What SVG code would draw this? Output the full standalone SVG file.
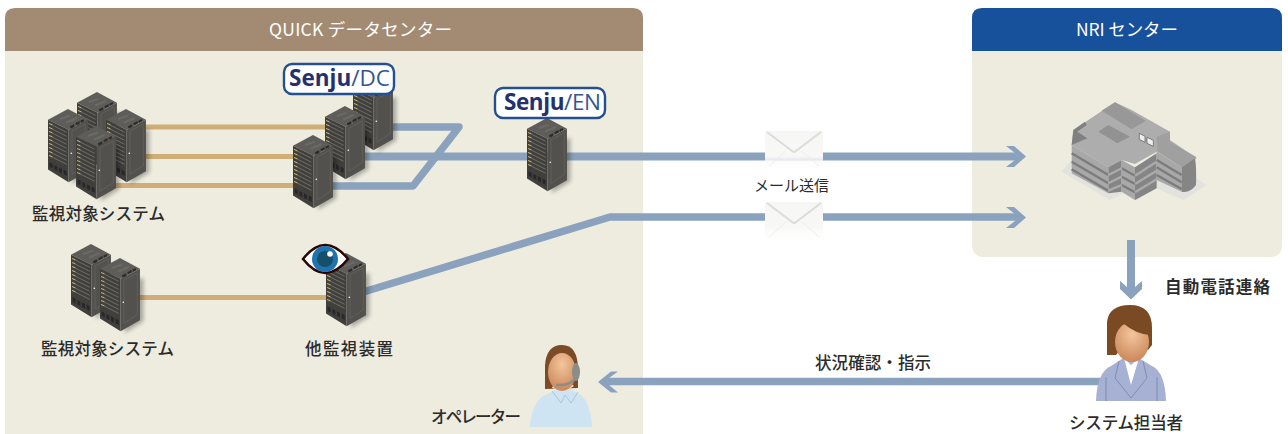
<svg xmlns="http://www.w3.org/2000/svg" xmlns:xlink="http://www.w3.org/1999/xlink" width="1288" height="434" viewBox="0 0 1288 434">
<style>
text{font-family:"Noto Sans CJK JP","Noto Sans",sans-serif;fill:#2b2b2b}
.lb{font-size:16.5px;font-weight:500}
.hd{font-size:17.5px;fill:#fff;text-anchor:middle}
.tan{fill:none;stroke:#cfae78;stroke-width:4.8}
.blue{fill:none;stroke:#8aa2bd;stroke-width:7.5;stroke-linejoin:round}
.head{fill:#8aa2bd}
.bdg{fill:#fff;stroke:#24508f;stroke-width:2.4}
.sj{font-family:"Open Sans","Noto Sans",sans-serif;font-size:22.5px;fill:#25316f;font-weight:700}
.sj2{font-weight:400;fill:#35568f}
</style>
<defs>
<filter id="blr" x="-30%" y="-30%" width="160%" height="160%"><feGaussianBlur stdDeviation="6"/></filter>
<linearGradient id="env" x1="0" y1="0" x2="0" y2="1"><stop offset="0" stop-color="#f6f6f4"/><stop offset=".6" stop-color="#f8f8f7"/><stop offset="1" stop-color="#fff" stop-opacity=".15"/></linearGradient>
<radialGradient id="skin" cx=".5" cy=".3" r=".8"><stop offset="0" stop-color="#f5c59c"/><stop offset="1" stop-color="#c47f52"/></radialGradient>
<g id="srv">
<path d="M80 70L130 60V190L74 225Z" fill="#000" opacity=".3" filter="url(#blr)"/>
<path d="M60 0L120 32L62 62L0 32Z" fill="#5f5d59"/>
<path d="M0 32L62 62V220L0 182Z" fill="#413f3c"/>
<path d="M62 62L120 32V187L62 220Z" fill="#53514d"/>
<path d="M36 30l30-10M54 41l32-14" stroke="#6c6a66" stroke-width="6" fill="none"/>
<path d="M66 52l12-6l2 7l-12 6zM82 43l12-7l2 7l-12 6zM97 35l10-5l2 6l-10 5z" fill="#2d2c2a"/>
<path d="M8 46l48 24M8 58l48 24M8 70l48 24M8 82l48 24M8 94l48 24M8 106l48 24M8 118l48 24M8 130l48 24M8 142l48 24" stroke="#8f8e86" stroke-width="1.8" fill="none"/>
<path d="M3 42l10 4v3l-10-4zM3 54l10 4v3l-10-4zM3 66l10 4v3l-10-4zM3 78l10 4v3l-10-4zM3 90l10 4v3l-10-4zM3 102l10 4v3l-10-4zM3 114l10 4v3l-10-4zM3 126l10 4v3l-10-4zM3 138l10 4v3l-10-4z" fill="#c9b878"/>
<path d="M5 160l9 5v14l-9-5zM19 168l9 5v14l-9-5zM33 175l9 5v14l-9-5zM47 182l9 5v14l-9-5z" fill="#28272a"/>
<path d="M72 66L112 45V170L72 196Z" fill="none" stroke="#6f6d68" stroke-width="1.5"/>
<circle cx="70" cy="133" r="2.5" fill="#e8e8e0"/>
</g>
<g id="envl">
<path d="M0 0H58V42H0Z" fill="url(#env)"/>
<path d="M2 1L27 20Q29 22 31 20L56 1" fill="none" stroke="#dcdcd9" stroke-width="2"/>
<path d="M4 35L21 20M54 35L37 20" fill="none" stroke="#eeeeeb" stroke-width="1"/>
</g>
</defs>
<g id="panel-quick">
<path d="M5 51H643V434H5Z" fill="#eeecdf"/>
<path d="M5 51V18Q5 8 15 8H633Q643 8 643 18V51Z" fill="#a38b73"/>
<text class="hd" x="360.500" y="36" textLength="183">QUICK データセンター</text>
</g>
<g id="panel-nri">
<path d="M972 51H1282V245Q1282 257 1270 257H984Q972 257 972 245Z" fill="#eeecdf"/>
<path d="M972 51V18Q972 8 982 8H1272Q1282 8 1282 18V51Z" fill="#17509b"/>
<text class="hd" x="1127" y="36" textLength="102">NRI センター</text>
</g>
<g id="connectors">
<path class="tan" d="M146 127H330M146 156.500H300M110 185.500H300M139 297.500H330"/>
<path class="blue" d="M385 127H459L413 186H325"/>
<path class="blue" d="M360 156.500H1016" style="stroke-width:8"/>
<path class="blue" d="M360 293L610 217H1016"/>
<path class="head" d="M1006 146H1014L1026 156.500L1014 167H1006L1015 160V153Z"/>
<path class="head" d="M1006 207H1014L1026 217.500L1014 228H1006L1015 221V214Z"/>
<path class="blue" d="M1131 240V292" style="stroke-width:8"/>
<path class="head" d="M1120 281L1127 287H1135L1142 281V289L1131 299.500L1120 289Z"/>
<path class="blue" d="M1100 381.500H604"/>
<path class="head" d="M618 371.500H611L598 382L611 392.500H618L609 385V378Z"/>
</g>
<g id="n-monitored-1">
<use href="#srv" transform="translate(77 92) scale(.333)"/>
<use href="#srv" transform="translate(48 109) scale(.333)"/>
<use href="#srv" transform="translate(106 109) scale(.333)"/>
<use href="#srv" transform="translate(76 126) scale(.333)"/>
<text class="lb" x="32" y="220" textLength="133">監視対象システム</text>
</g>
<g id="n-senju-dc">
<use href="#srv" transform="translate(353 77) scale(.333)"/>
<use href="#srv" transform="translate(325 106) scale(.333)"/>
<use href="#srv" transform="translate(293 135) scale(.333)"/>
<rect class="bdg" x="284" y="64" width="110" height="30" rx="8"/>
<text class="sj" x="289" y="86" textLength="101">Senju<tspan class="sj2">/DC</tspan></text>
</g>
<g id="n-senju-en">
<use href="#srv" transform="translate(527 118) scale(.333)"/>
<rect class="bdg" x="495" y="88" width="110" height="30" rx="8"/>
<text class="sj" x="504" y="110" textLength="97">Senju<tspan class="sj2">/EN</tspan></text>
</g>
<g id="n-monitored-2">
<use href="#srv" transform="translate(71 244) scale(.333)"/>
<use href="#srv" transform="translate(100 258) scale(.333)"/>
<text class="lb" x="41" y="355" textLength="133">監視対象システム</text>
</g>
<g id="n-other-monitor">
<use href="#srv" transform="translate(326 253) scale(.333)"/>
<path d="M303 259Q325 231 348 259Q325 287 303 259Z" fill="#fff" stroke="#2a0505" stroke-width="2.500"/>
<circle cx="325" cy="259" r="13" fill="#1f74b0"/>
<circle cx="325" cy="259" r="8" fill="#154f69"/>
<circle cx="330" cy="254" r="2.800" fill="#fff"/>
<text class="lb" x="305" y="355" textLength="88">他監視装置</text>
</g>
<g id="n-operator">
<path d="M530 427Q531 405 543 396L561 387H567L582 396Q591 405 592 427Z" fill="#cfe4f3"/>
<path d="M552 391L561 403L565 395L571 403L578 392" fill="none" stroke="#a9c6da" stroke-width="1"/>
<path d="M545 389V366Q546 345 562 345Q578 345 578 370V388Z" fill="#7b4b27"/>
<path d="M552 388L564 392L574 386L566 380H556Z" fill="#e7e1d3"/>
<ellipse cx="562" cy="372" rx="14" ry="19" fill="url(#skin)"/>
<ellipse cx="576" cy="372" rx="4" ry="9" fill="#8c8c88"/>
<path d="M556 385Q570 386 576 378" fill="none" stroke="#8c8c88" stroke-width="2.500"/>
<text class="lb" x="431" y="423" textLength="90">オペレーター</text>
</g>
<g id="n-manager">
<path d="M1096 401Q1097 372 1111 366L1125 357H1137L1152 366Q1165 372 1166 401Z" fill="#a6b1d3"/>
<path d="M1124 358L1131 385L1139 358L1131 365Z" fill="#fff"/>
<path d="M1119 361L1115 378L1131 398L1147 378L1143 361M1106 377V401M1157 377V401" fill="none" stroke="#7f8cb5" stroke-width="1"/>
<path d="M1107 355V322Q1109 305 1130 305Q1152 305 1152 328V345L1148 350H1120L1116 355Z" fill="#7a4a25"/>
<ellipse cx="1132" cy="342" rx="17" ry="20" fill="url(#skin)"/>
<path d="M1114 338Q1116 326 1124 324Q1136 334 1150 335V322L1130 315L1114 322Z" fill="#7a4a25"/>
<text class="lb" x="1069" y="429" textLength="114">システム担当者</text>
</g>
<g id="n-nri-building" transform="translate(1000 80) scale(.3333)">
<path d="M185 275L215 238L590 295L620 315L550 360L470 325L405 362L370 340L330 360Z" fill="#e2e2de"/>
<path d="M220 150L345 67L395 90L510 155V180L590 235L545 262L470 215L405 252L365 240L325 262L215 195Z" fill="#adadad"/>
<path d="M220 150L255 125L260 135L232 155L262 175L215 195Z" fill="#808080"/>
<path d="M470 170L510 155V185L590 232L545 262L472 213Z" fill="#a0a0a0"/>
<path d="M305 92L345 67L437 122L395 148Z" fill="#989898"/>
<path d="M295 155L325 135L390 170L352 190Z" fill="#929292"/>
<path d="M215 195L325 262V340L215 280Z" fill="#a8a8a8"/>
<path d="M325 262L365 240V335L325 340Z" fill="#858585"/>
<path d="M365 240L405 262V360L365 335Z" fill="#a8a8a8"/>
<path d="M405 262L470 220V325L405 360Z" fill="#858585"/>
<path d="M470 215L545 262V335L470 300Z" fill="#a8a8a8"/>
<path d="M545 262L585 235Q590 260 588 315Q570 340 545 335Z" fill="#858585"/>
<path d="M215 220L325 285M215 245L325 310M215 268L325 332M365 265L405 287M365 290L405 312M365 315L405 337M470 240L545 285M470 262L545 307M470 285L545 327" stroke="#7c7c7c" stroke-width="7" fill="none"/>
<path d="M325 285L365 265M325 310L365 290M325 332L365 315M405 287L470 245M405 312L470 272M405 337L470 298" stroke="#ababab" stroke-width="7" fill="none"/>
<path d="M418 160l17 9v18l-17-9zM441 172l19 9v18l-19-9z" fill="#eee" stroke="#555" stroke-width="2"/>
</g>
<g id="n-mail-1"><use href="#envl" transform="translate(765 131)"/></g>
<g id="n-mail-2"><use href="#envl" transform="translate(765 202)"/></g>
<text x="754" y="191" style="font-size:15px" textLength="75">メール送信</text>
<text class="lb" x="815" y="369" textLength="116">状況確認・指示</text>
<text class="lb" x="1165" y="293" textLength="105" style="font-weight:700">自動電話連絡</text>
</svg>
